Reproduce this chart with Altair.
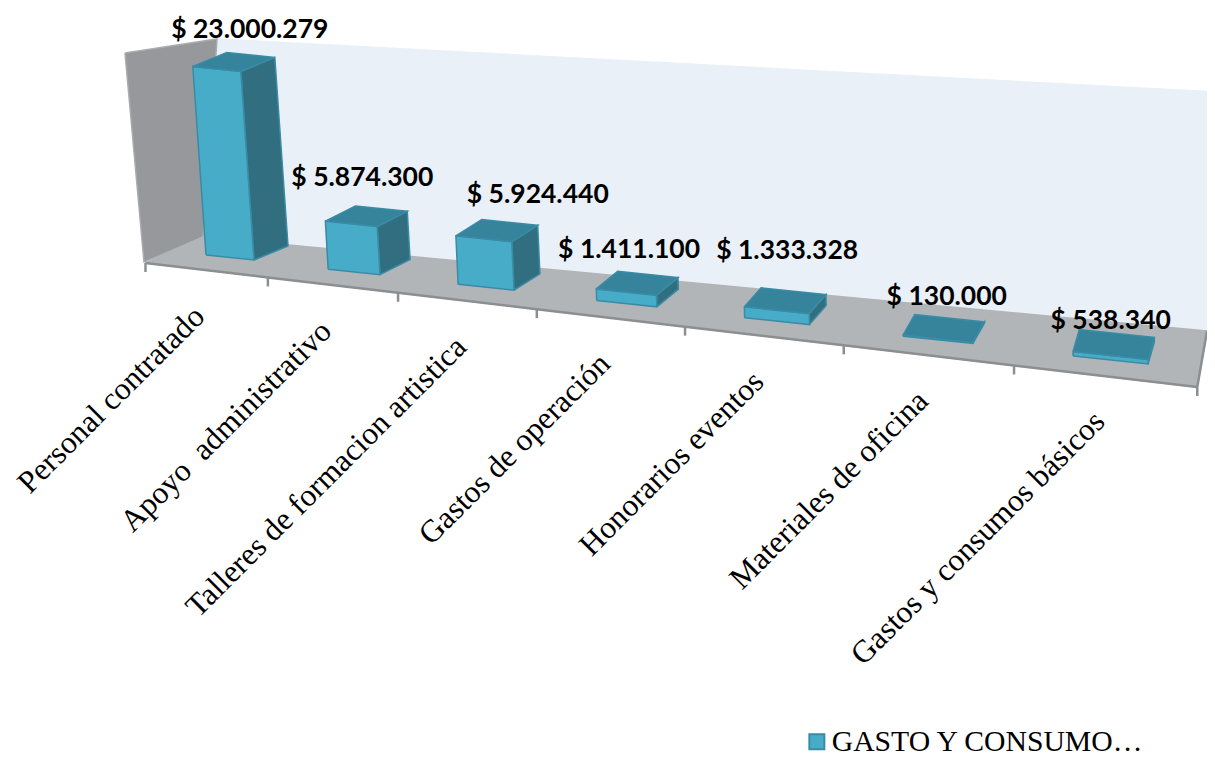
import altair as alt
import pandas as pd

# ---- values ----
categories = ["Personal contratado", "Apoyo \u00a0administrativo", "Talleres de formacion artistica",
              "Gastos de operación", "Honorarios eventos", "Materiales de oficina",
              "Gastos y consumos básicos"]
values = [23000279, 5874300, 5924440, 1411100, 1333328, 130000, 538340]
value_labels = ["$ 23.000.279", "$ 5.874.300", "$ 5.924.440", "$ 1.411.100",
                "$ 1.333.328", "$ 130.000", "$ 538.340"]
series_name = "GASTO Y CONSUMO…"

# ---- layout: a hand-fitted perspective projection, in picture pixels ----
W, H = 1199, 750
PERSP = 0.03            # foreshortening along the category axis
PX_PER_UNIT = 8.2e-6    # bar height per peso
label_nudge = [(16, -32), (-4, -38), (41, -36), (-8, -33), (2, -50), (3, -32), (-3, -24)]

FRONT_FACE, TOP_FACE, SIDE_FACE, BAR_EDGE = "#47ACC8", "#35849B", "#316F80", "#3A8BA5"
LEFT_WALL, BACK_WALL, FLOOR, FRAME = "#96989C", "#E9F0F7", "#B1B5B8", "#8C8F92"


def along(i):
    return i / (1 - PERSP * i)


def floor_pt(i, w, d):
    """Floor point of bar i: w = 0 left / 1 right, d = 0 front / 1 back."""
    t = along(i)
    return (206 + 48 * w + 34 * d + t * (118.5 + 3.7 * w - 3.8 * d),
            255 + 5 * w - 14 * d + t * (13.8 + 0.4 * w - 1.1 * d))


def raised(pt, i, h):
    return (pt[0] - (0.07 - 0.012 * i) * h, pt[1] - h)


def axis_pt(i):
    return (145.5 + 118.7 * along(i), 263 + 14 * along(i))


polys = []


def add_poly(name, pts, fill, stroke):
    for k, (x, y) in enumerate(list(pts) + [pts[0]]):
        polys.append(dict(id=name, k=k, x=x, y=y, fill=fill, stroke=stroke))


# frame of the 3-D box
add_poly("a_back", [(217, 39), (1215, 92), (1207, 331), (203, 237)], BACK_WALL, BACK_WALL)
add_poly("b_left", [(125, 53), (217, 39), (203, 237), (144, 262)], LEFT_WALL, "#A9ABAE")
add_poly("c_floor", [axis_pt(0), (203, 237), (1207, 331), axis_pt(7)], FLOOR, FLOOR)

# bars
for i, v in enumerate(values):
    h = v * PX_PER_UNIT
    fl, fr, br = floor_pt(i, 0, 0), floor_pt(i, 1, 0), floor_pt(i, 1, 1)
    bl = floor_pt(i, 0, 1)
    flt, frt, brt, blt = (raised(p, i, h) for p in (fl, fr, br, bl))
    add_poly(f"d{i}_side", [fr, br, brt, frt], SIDE_FACE, BAR_EDGE)
    add_poly(f"e{i}_front", [fl, fr, frt, flt], FRONT_FACE, BAR_EDGE)
    add_poly(f"f{i}_top", [flt, frt, brt, blt], TOP_FACE, BAR_EDGE)

poly_df = pd.DataFrame(polys)

xs = alt.X("x:Q", scale=alt.Scale(domain=[8, 8 + W], nice=False, zero=False), axis=None)
ys = alt.Y("y:Q", scale=alt.Scale(domain=[8 + H, 8], nice=False, zero=False), axis=None)

faces = alt.Chart(poly_df).mark_line(strokeWidth=1.5, clip=True, interpolate="linear").encode(
    x=xs, y=ys,
    detail="id:N",
    order="k:Q",
    fill=alt.Fill("fill:N", scale=None),
    stroke=alt.Stroke("stroke:N", scale=None),
)

# axis line and ticks
axis_rows = [dict(id="line", k=j, x=axis_pt(j)[0], y=axis_pt(j)[1]) for j in range(8)]
for j in range(8):
    ax, ay = axis_pt(j)
    axis_rows += [dict(id=f"t{j}", k=0, x=ax, y=ay), dict(id=f"t{j}", k=1, x=ax, y=ay + 9)]
axis_rows.append(dict(id="edge", k=0, x=axis_pt(7)[0], y=axis_pt(7)[1]))
axis_rows.append(dict(id="edge", k=1, x=1207, y=331))
axis_marks = alt.Chart(pd.DataFrame(axis_rows)).mark_line(stroke=FRAME, strokeWidth=2.5, clip=True).encode(
    x=xs, y=ys, detail="id:N", order="k:Q")

# category labels
cat_df = pd.DataFrame([dict(label=c, x=200 + 123 * along(i), y=312 + 14.35 * along(i))
                       for i, c in enumerate(categories)])
cat_text = alt.Chart(cat_df).mark_text(
    font="Liberation Serif", fontSize=31.5, angle=315, align="right", baseline="middle", color="#000000"
).encode(x=xs, y=ys, text="label:N")

# value labels
val_rows = []
for i, (v, t) in enumerate(zip(values, value_labels)):
    h = v * PX_PER_UNIT
    a = raised(floor_pt(i, 0, 0), i, h)
    b = raised(floor_pt(i, 1, 1), i, h)
    val_rows.append(dict(label=t, x=(a[0] + b[0]) / 2 + label_nudge[i][0],
                         y=(a[1] + b[1]) / 2 + label_nudge[i][1]))
val_text = alt.Chart(pd.DataFrame(val_rows)).mark_text(
    font="Lato", fontWeight="bold", fontSize=26.5, align="center", baseline="middle", color="#000000"
).encode(x=xs, y=ys, text="label:N")

# legend
legend_layer = alt.Chart(pd.DataFrame({"s": [series_name], "x": [600], "y": [740]})).mark_square(size=0).encode(
    x=xs, y=ys,
    color=alt.Color("s:N", scale=alt.Scale(domain=[series_name], range=[FRONT_FACE]),
                    legend=alt.Legend(orient="none", legendX=794, legendY=719, title=None,
                                      symbolType="square", symbolSize=225, symbolOpacity=1,
                                      symbolFillColor=FRONT_FACE, symbolStrokeColor=BAR_EDGE,
                                      symbolStrokeWidth=2, labelFont="Liberation Serif",
                                      labelFontSize=29.7, labelColor="#000000", labelLimit=500,
                                      labelOffset=0)),
)

chart = alt.layer(faces, axis_marks, cat_text, val_text, legend_layer).properties(
    width=W, height=H, padding=0, background="#FFFFFF",
    autosize=alt.AutoSizeParams(type="none"),
).configure_view(stroke=None)

chart.save("out.html", embed_options={"renderer": "svg", "actions": False})
